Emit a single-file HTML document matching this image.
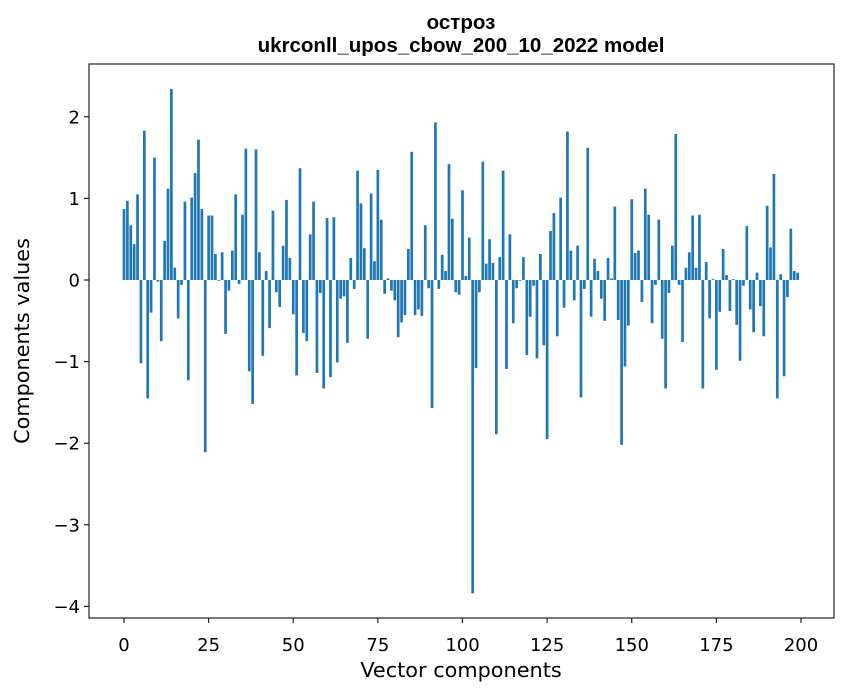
<!DOCTYPE html>
<html><head><meta charset="utf-8"><style>
body{margin:0;background:#fff;}
svg{display:block;font-family:"DejaVu Sans","Liberation Sans",sans-serif;}
</style></head><body>
<svg id="chart" width="847" height="696" viewBox="0 0 847 696">
<rect width="847" height="696" fill="#fff"/>
<text x="461" y="29" text-anchor="middle" font-size="20.5" font-weight="bold" font-family="Liberation Sans, sans-serif">остроз</text>
<text x="461" y="52" text-anchor="middle" font-size="20.5" font-weight="bold" font-family="Liberation Sans, sans-serif">ukrconll_upos_cbow_200_10_2022 model</text>
<g id="bars"></g>
<g id="xticks"></g>
<g id="yticks"></g>
<rect x="89" y="64" width="745" height="554" fill="none" stroke="#222" stroke-width="1.2"/>
<text x="461" y="677" text-anchor="middle" font-size="20.8">Vector components</text>
<text transform="translate(29,341) rotate(-90)" text-anchor="middle" font-size="20.8">Components values</text>
</svg>
<script>
const values = [0.87,0.97,0.67,0.44,1.05,-1.02,1.83,-1.45,-0.40,1.50,
-0.02,-0.75,0.48,1.12,2.34,0.15,-0.47,-0.06,0.96,-1.23,
1.01,1.31,1.72,0.87,-2.11,0.79,0.79,0.32,-0.01,0.34,
-0.66,-0.13,0.36,1.05,-0.05,0.80,1.61,-1.12,-1.52,1.60,
0.34,-0.93,0.11,-0.59,0.85,-0.15,-0.33,0.42,0.98,0.27,
-0.42,-1.17,1.37,-0.65,-0.75,0.56,0.96,-1.14,-0.16,-1.33,
0.76,-1.19,0.77,-1.01,-0.23,-0.20,-0.77,0.27,-0.11,1.34,
0.94,0.39,-0.72,1.06,0.23,1.35,0.74,-0.17,0.02,-0.13,
-0.25,-0.70,-0.52,-0.43,0.38,1.57,-0.43,-0.36,-0.44,0.67,
-0.10,-1.57,1.93,-0.11,0.31,0.11,1.42,0.75,-0.15,-0.18,
1.10,0.05,0.52,-3.84,-1.08,-0.15,1.45,0.20,0.50,0.21,
-1.89,0.28,1.34,-1.09,0.56,-0.53,-0.10,-0.01,0.28,-0.92,
-0.45,-0.07,-0.96,0.32,-0.80,-1.95,0.60,0.82,-0.69,1.01,
-0.34,1.82,0.36,-0.25,0.42,-1.44,-0.11,1.62,-0.45,0.26,
0.11,-0.23,-0.50,0.27,0.02,0.90,-0.49,-2.02,-1.06,-0.56,
0.99,0.33,0.36,-0.27,1.12,0.80,-0.53,-0.06,0.74,-0.72,
-1.33,-0.16,0.42,1.79,-0.06,-0.76,0.15,0.34,0.79,0.15,
0.80,-1.33,0.22,-0.47,0.01,-1.10,-0.39,0.38,0.06,-0.38,
0.01,-0.55,-0.99,-0.07,0.66,-0.36,-0.64,0.09,-0.32,-0.69,
0.91,0.40,1.30,-1.45,0.07,-1.18,-0.21,0.63,0.11,0.09];
const xTicks = [0,25,50,75,100,125,150,175,200];
const yTicks = [-4,-3,-2,-1,0,1,2];

const NS="http://www.w3.org/2000/svg";
const xs = v => 124 + v*3.385;
const ys = v => 280 - v*81.6;
const barsG=document.getElementById('bars');
values.forEach((v,i)=>{
  const r=document.createElementNS(NS,'rect');
  const y0=ys(0), y1=ys(v);
  r.setAttribute('x',xs(i-0.4));
  r.setAttribute('width',3.385*0.8);
  r.setAttribute('y',Math.min(y0,y1));
  r.setAttribute('height',Math.abs(y1-y0));
  r.setAttribute('fill','#1f77b4');
  
  
  barsG.appendChild(r);
});
const xg=document.getElementById('xticks');
xTicks.forEach(t=>{
  const l=document.createElementNS(NS,'line');
  l.setAttribute('x1',xs(t));l.setAttribute('x2',xs(t));
  l.setAttribute('y1',618);l.setAttribute('y2',623);l.setAttribute('stroke','#222');l.setAttribute('stroke-width','1.2');
  
  
  xg.appendChild(l);
  const tx=document.createElementNS(NS,'text');
  tx.setAttribute('x',xs(t));tx.setAttribute('y',651);
  tx.setAttribute('text-anchor','middle');tx.setAttribute('font-size','18');
  tx.textContent=t;
  
  
  xg.appendChild(tx);
});
const yg=document.getElementById('yticks');
yTicks.forEach(t=>{
  const l=document.createElementNS(NS,'line');
  l.setAttribute('x1',84);l.setAttribute('x2',89);
  l.setAttribute('y1',ys(t));l.setAttribute('y2',ys(t));l.setAttribute('stroke','#222');l.setAttribute('stroke-width','1.2');
  
  
  yg.appendChild(l);
  const tx=document.createElementNS(NS,'text');
  tx.setAttribute('x',80);tx.setAttribute('y',ys(t)+6.5);
  tx.setAttribute('text-anchor','end');tx.setAttribute('font-size','18');
  tx.textContent=(t<0?'\u2212'+(-t):String(t));
  
  
  yg.appendChild(tx);
});
</script>
</body></html>
